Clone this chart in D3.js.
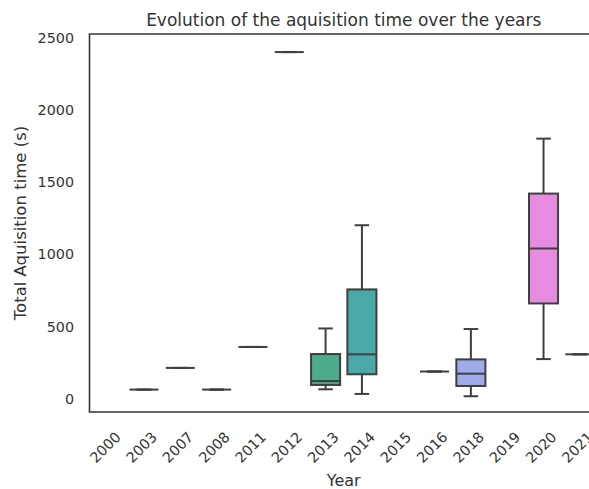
<!DOCTYPE html>
<html>
<head>
<meta charset="utf-8">
<script src="https://cdn.jsdelivr.net/npm/d3@7"></script>
<style>
  body { margin: 0; background: #fff; }
  text { font-family: "DejaVu Sans", sans-serif; fill: #333; }
</style>
</head>
<body>
<div id="container"></div>
<script>
// years on the x axis
const years = ["2000","2003","2007","2008","2011","2012","2013","2014","2015","2016","2018","2019","2020","2021"]
// box stats per year (null = no data)
const whiskerLow  = [null, 65, 215, 65, 360, 2400,  67,   35, null, 190,  19, null,  276, 309]
const q1          = [null, 65, 215, 65, 360, 2400,  97,  171, null, 190,  90, null,  661, 309]
const median      = [null, 65, 215, 65, 360, 2400, 124,  309, null, 190, 175, null, 1041, 309]
const q3          = [null, 65, 215, 65, 360, 2400, 311,  758, null, 190, 274, null, 1421, 309]
const whiskerHigh = [null, 65, 215, 65, 360, 2400, 488, 1202, null, 190, 484, null, 1801, 309]
const palette = ["#e27c7c","#c98e58","#aa9c4d","#8ea74b","#5fb04c","#4daf74","#4bab8a","#4aa9a8","#4ea5c4","#7ba1e3","#9eaae9","#c28de6","#e68be0","#e387ac"]
const yTicks = [0, 500, 1000, 1500, 2000, 2500]
const yLim = [-90, 2525]

const width = 589
const height = 489
const margin = {left: 89.5, top: 34, right: -9, bottom: 77}
const lineColor = "#3f3f3f"

const rows = years.map((y, i) => ({
    year: y, lo: whiskerLow[i], q1: q1[i], med: median[i], q3: q3[i], hi: whiskerHigh[i], color: palette[i]
})).filter(d => d.med !== null)

const svg = d3.select("#container").append("svg")
    .attr("width", width)
    .attr("height", height)

const x = d3.scaleBand()
    .domain(years)
    .range([margin.left, width - margin.right])

const y = d3.scaleLinear()
    .domain(yLim)
    .range([height - margin.bottom, margin.top])

const boxW = x.bandwidth() * 0.8
const capW = boxW * 0.5

// y tick labels
svg.append("g")
    .selectAll("text")
    .data(yTicks)
    .enter().append("text")
    .attr("x", 74)
    .attr("y", d => y(d))
    .attr("dy", "0.35em")
    .attr("text-anchor", "end")
    .style("font-size", "14.3px")
    .text(d => d)

// x tick labels, rotated
svg.append("g")
    .selectAll("text")
    .data(years)
    .enter().append("text")
    .attr("transform", d => `translate(${x(d) + x.bandwidth() / 2 + 14}, 438) rotate(-45)`)
    .attr("text-anchor", "end")
    .style("font-size", "14.3px")
    .text(d => d)

const boxes = svg.append("g")
    .selectAll("g")
    .data(rows)
    .enter().append("g")
    .attr("transform", d => `translate(${x(d.year) + x.bandwidth() / 2}, 0)`)

// whiskers
boxes.append("line")
    .attr("y1", d => y(d.lo)).attr("y2", d => y(d.q1))
    .attr("stroke", lineColor).attr("stroke-width", 2)
boxes.append("line")
    .attr("y1", d => y(d.q3)).attr("y2", d => y(d.hi))
    .attr("stroke", lineColor).attr("stroke-width", 2)
boxes.append("line")
    .attr("x1", -capW / 2).attr("x2", capW / 2)
    .attr("y1", d => y(d.lo)).attr("y2", d => y(d.lo))
    .attr("stroke", lineColor).attr("stroke-width", 2)
boxes.append("line")
    .attr("x1", -capW / 2).attr("x2", capW / 2)
    .attr("y1", d => y(d.hi)).attr("y2", d => y(d.hi))
    .attr("stroke", lineColor).attr("stroke-width", 2)

// boxes
boxes.append("rect")
    .attr("x", -boxW / 2)
    .attr("width", boxW)
    .attr("y", d => y(d.q3))
    .attr("height", d => y(d.q1) - y(d.q3))
    .attr("fill", d => d.color)
    .attr("stroke", lineColor)
    .attr("stroke-width", 2)

// medians
boxes.append("line")
    .attr("x1", -boxW / 2).attr("x2", boxW / 2)
    .attr("y1", d => y(d.med)).attr("y2", d => y(d.med))
    .attr("stroke", lineColor).attr("stroke-width", 2)

// spines (left, top, bottom)
svg.append("path")
    .attr("d", `M${width},${margin.top}H${margin.left}V${height - margin.bottom}H${width}`)
    .attr("fill", "none")
    .attr("stroke", "#333")
    .attr("stroke-width", 1.6)

svg.append("text")
    .attr("x", (margin.left + width - margin.right) / 2)
    .attr("y", 26)
    .attr("text-anchor", "middle")
    .style("font-size", "17px")
    .text("Evolution of the aquisition time over the years")

svg.append("text")
    .attr("x", (margin.left + width - margin.right) / 2)
    .attr("y", 486)
    .attr("text-anchor", "middle")
    .style("font-size", "16px")
    .text("Year")

svg.append("text")
    .attr("transform", `translate(26, ${(margin.top + height - margin.bottom) / 2}) rotate(-90)`)
    .attr("text-anchor", "middle")
    .style("font-size", "16.5px")
    .text("Total Aquisition time (s)")
</script>
</body>
</html>
